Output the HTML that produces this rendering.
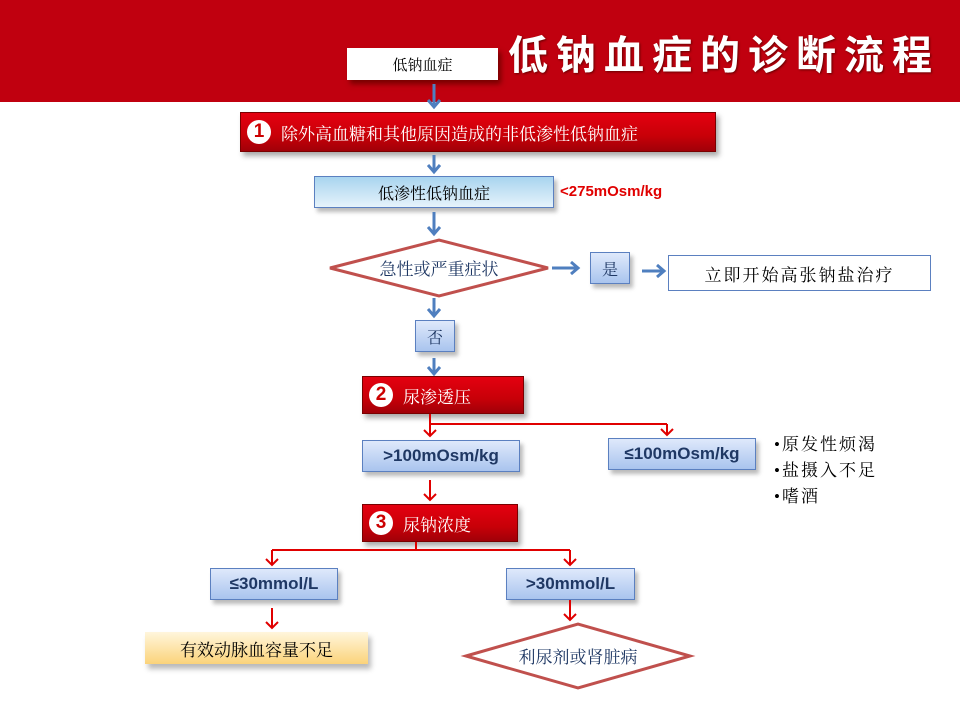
<!DOCTYPE html>
<html><head><meta charset="utf-8"><style>
body{margin:0;width:960px;height:720px;overflow:hidden;background:#fff;position:relative;font-family:"Liberation Serif","Noto Serif CJK SC",serif}
.a{position:absolute;box-sizing:border-box;display:flex;align-items:center;justify-content:center}
.hdr{position:absolute;left:0;top:0;width:960px;height:102px;background:#c0000f}
.title{position:absolute;left:508px;top:26px;color:#fff;font:bold 40px "Noto Sans CJK SC",sans-serif;letter-spacing:8px;text-shadow:1px 1px 2px #600;white-space:nowrap;line-height:52px}
.blue{background:linear-gradient(#dfe9fb,#a9c4ee);border:1px solid #5b80c0;box-shadow:3px 4px 4px #bbb;font-family:"Liberation Sans",sans-serif;font-weight:bold;color:#1f3864;font-size:17px}
.redb{background:linear-gradient(#e40010,#c80008 60%,#a00008);border:1px solid #7a0000;box-shadow:3px 4px 5px #aaa;color:#fff;font-size:17px;justify-content:flex-start}
.circ{width:24px;height:24px;border-radius:50%;background:#fff;color:#c00;font:bold 19px "Liberation Sans",sans-serif;display:flex;align-items:center;justify-content:center;margin:0 10px 0 6px}
</style></head><body>
<div class="hdr"></div>
<div class="title">低钠血症的诊断流程</div>
<div class="a" style="left:347px;top:48px;width:151px;height:32px;background:#fff;font-size:15px;box-shadow:3px 4px 5px #700">低钠血症</div>
<div class="a redb" style="left:240px;top:112px;width:476px;height:40px"><span class="circ">1</span>除外高血糖和其他原因造成的非低渗性低钠血症</div>
<div class="a" style="left:314px;top:176px;width:240px;height:32px;background:linear-gradient(#a8d4ef,#e6f3fb);border:1px solid #5b80c0;box-shadow:3px 4px 4px #bbb;font-size:16px">低渗性低钠血症</div>
<div style="position:absolute;left:560px;top:183px;color:#e00000;font:bold 15px 'Liberation Sans',sans-serif">&lt;275mOsm/kg</div>
<div class="a blue" style="left:590px;top:252px;width:40px;height:32px;font-family:'Liberation Serif','Noto Serif CJK SC',serif;font-size:16px;font-weight:normal">是</div>
<div class="a" style="left:668px;top:255px;width:263px;height:36px;border:1px solid #5b80c0;font-size:17px;letter-spacing:2px">立即开始高张钠盐治疗</div>
<div class="a blue" style="left:415px;top:320px;width:40px;height:32px;font-family:'Liberation Serif','Noto Serif CJK SC',serif;font-size:16px;font-weight:normal">否</div>
<div class="a redb" style="left:362px;top:376px;width:162px;height:38px"><span class="circ">2</span>尿渗透压</div>
<div class="a blue" style="left:362px;top:440px;width:158px;height:32px">&gt;100mOsm/kg</div>
<div class="a blue" style="left:608px;top:438px;width:148px;height:32px">≤100mOsm/kg</div>
<div style="position:absolute;left:774px;top:432px;font-size:17px;line-height:26px;letter-spacing:2px">•原发性烦渴<br>•盐摄入不足<br>•嗜酒</div>
<div class="a redb" style="left:362px;top:504px;width:156px;height:38px"><span class="circ">3</span>尿钠浓度</div>
<div class="a blue" style="left:210px;top:568px;width:128px;height:32px">≤30mmol/L</div>
<div class="a blue" style="left:506px;top:568px;width:129px;height:32px">&gt;30mmol/L</div>
<div class="a" style="left:145px;top:632px;width:223px;height:32px;background:linear-gradient(#fff6dc,#fbd37a);box-shadow:3px 5px 5px #bbb;font-size:17px">有效动脉血容量不足</div>
<svg width="960" height="720" style="position:absolute;left:0;top:0">
<defs>
<marker id="bb" markerUnits="userSpaceOnUse" markerWidth="14" markerHeight="14" refX="9" refY="7" orient="auto"><path d="M2,1 L9,7 L2,13" fill="none" stroke="#4f7fbf" stroke-width="3"/></marker>
<marker id="rr" markerUnits="userSpaceOnUse" markerWidth="14" markerHeight="14" refX="8" refY="7" orient="auto"><path d="M2,1 L8,7 L2,13" fill="none" stroke="#e00000" stroke-width="2"/></marker>
</defs>
<g stroke="#4f7fbf" stroke-width="3" marker-end="url(#bb)">
<line x1="434" y1="84" x2="434" y2="107"/>
<line x1="434" y1="155" x2="434" y2="172"/>
<line x1="434" y1="212" x2="434" y2="234"/>
<line x1="552" y1="268" x2="578" y2="268"/>
<line x1="642" y1="271" x2="664" y2="271"/>
<line x1="434" y1="298" x2="434" y2="316"/>
<line x1="434" y1="358" x2="434" y2="374"/>
</g>
<polygon points="330,268 439,240 548,268 439,296" fill="#fff" stroke="#c0504d" stroke-width="3"/>
<text x="439" y="275" text-anchor="middle" font-size="17" fill="#1f3864" font-family="Liberation Serif,Noto Serif CJK SC,serif">急性或严重症状</text>
<g stroke="#e00000" stroke-width="2" fill="none">
<polyline points="430,414 430,424 667,424"/>
<line x1="430" y1="424" x2="430" y2="436" marker-end="url(#rr)"/>
<line x1="667" y1="424" x2="667" y2="435" marker-end="url(#rr)"/>
<line x1="430" y1="480" x2="430" y2="500" marker-end="url(#rr)"/>
<polyline points="416,542 416,550 272,550 570,550"/>
<line x1="272" y1="550" x2="272" y2="565" marker-end="url(#rr)"/>
<line x1="570" y1="550" x2="570" y2="565" marker-end="url(#rr)"/>
<line x1="272" y1="608" x2="272" y2="628" marker-end="url(#rr)"/>
<line x1="570" y1="600" x2="570" y2="620" marker-end="url(#rr)"/>
</g>
<polygon points="466,656 578,624 690,656 578,688" fill="#fff" stroke="#c0504d" stroke-width="3"/>
<text x="578" y="663" text-anchor="middle" font-size="17" fill="#1f3864" font-family="Liberation Serif,Noto Serif CJK SC,serif">利尿剂或肾脏病</text>
</svg>
</body></html>
